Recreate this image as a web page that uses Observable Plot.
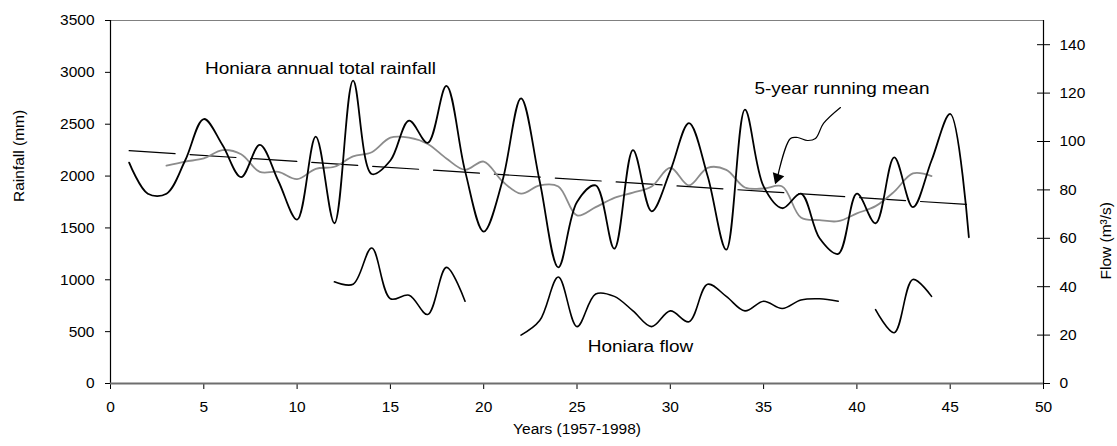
<!DOCTYPE html>
<html><head><meta charset="utf-8">
<script src="https://cdn.jsdelivr.net/npm/d3@7"></script>
<script src="https://cdn.jsdelivr.net/npm/@observablehq/plot@0.6"></script>
<style>
html,body{margin:0;padding:0;background:#fff;}
#chart{width:1117px;height:446px;overflow:hidden;}
</style></head><body><div id="chart"></div>
<script>
// Years since 1956 (1 = 1957 ... 46)
const rainYears = [1,2,3,4,5,6,7,8,9,10,11,12,13,14,15,16,17,18,19,20,21,22,23,24,25,26,27,28,29,30,31,32,33,34,35,36,37,38,39,40,41,42,43,44,45,46];
const rainfall = [2130,1830,1830,2150,2550,2300,1990,2300,1950,1580,2380,1545,2920,2020,2150,2535,2320,2870,2050,1465,1950,2750,1950,1120,1750,1910,1300,2250,1660,2050,2510,2000,1290,2640,1900,1690,1830,1400,1250,1830,1545,2180,1700,2150,2600,1410];

const meanYears = [3,4,5,6,7,8,9,10,11,12,13,14,15,16,17,18,19,20,21,22,23,24,25,26,27,28,29,30,31,32,33,34,35,36,37,38,39,40,41,42,43,44];
const runningMean = [2100,2140,2170,2250,2210,2040,2040,1970,2070,2090,2190,2230,2370,2370,2310,2170,2060,2140,1950,1830,1910,1900,1620,1700,1790,1840,1900,2080,1910,2080,2060,1890,1880,1900,1600,1575,1565,1640,1710,1850,2025,2000];

const trendYears = [1,46];
const trendRain = [2245,1725];

const flowYears = [12,13,14,15,16,17,18,19,20,21,22,23,24,25,26,27,28,29,30,31,32,33,34,35,36,37,38,39,40,41,42,43,44];
const flow = [42,41,56,35,36.5,28.5,48,34,null,null,20,26,44,23.5,37,36,30,23.5,30,25.5,41,36,30,34,31,34.5,35,34,null,30.5,21,43,36];

const rainTicks = [0,500,1000,1500,2000,2500,3000,3500];
const yearTicks = [0,5,10,15,20,25,30,35,40,45,50];
const flowTicks = [0,20,40,60,80,100,120,140];
const flowMax = 150;

// annotation arrow path (years, rainfall units)
const arrowX = [39.12,38.21,37.78,37.35,36.82,36.44,35.74];
const arrowY = [2661,2507,2362,2343,2372,2362,1986];

const labelX = [11.25, 39.2, 28.4];
const labelY = [3037, 2844, 357];
const labelText = ["Honiara annual total rainfall", "5-year running mean", "Honiara flow"];

const K = 3500 / flowMax;
const rainData = rainYears.map((y,i)=>({x:y, v:rainfall[i]}));
const meanData = meanYears.map((y,i)=>({x:y, v:runningMean[i]}));
const trendData = trendYears.map((y,i)=>({x:y, v:trendRain[i]}));
const flowData = flowYears.map((y,i)=>({x:y, v: flow[i]==null ? NaN : flow[i]*K}));
const arrowData = arrowX.map((x,i)=>({x, v:arrowY[i]}));
const tip = [arrowData[arrowData.length-1]];
const labels = labelText.map((t,i)=>({x:labelX[i], v:labelY[i], t}));

const font = "'Liberation Sans', Arial, Helvetica, sans-serif";
const FS = 15.5;   // axis text
const FA = 16.5;   // annotation text

const chart = Plot.plot({
  width:1117, height:446,
  marginLeft:110, marginRight:74, marginTop:20, marginBottom:63,
  style:{fontFamily:font, fontSize:FS+"px", color:"#000", background:"#fff"},
  x:{domain:[0,50]},
  y:{domain:[0,3500]},
  marks:[
    Plot.ruleY([3500], {stroke:"#808080", strokeWidth:1}),
    Plot.axisY(rainTicks, {anchor:"left", tickSize:5, tickPadding:11, label:null, stroke:"#000", fill:"#000", fontSize:FS, tickFormat:d=>String(d)}),
    Plot.axisY(flowTicks.map(v=>v*K), {anchor:"right", tickSize:6, tickPadding:10, label:null, stroke:"#000", fill:"#000", fontSize:FS, tickFormat:d=>String(Math.round(d/K))}),
    Plot.ruleY(flowTicks.map(v=>v*K), {x1:49.68, x2:50, stroke:"#000"}),
    Plot.axisX(yearTicks, {anchor:"bottom", tickSize:6, tickPadding:11, label:null, stroke:"#000", fill:"#000", fontSize:FS, tickFormat:d=>String(d)}),
    Plot.ruleX([0], {stroke:"#000", strokeWidth:1.2}),
    Plot.ruleX([50], {stroke:"#000", strokeWidth:1.2}),
    Plot.ruleY([0], {stroke:"#6e6e6e", strokeWidth:2.2}),
    Plot.line(trendData, {x:"x", y:"v", stroke:"#000", strokeWidth:1.2, strokeDasharray:"46,15"}),
    Plot.line(meanData, {x:"x", y:"v", stroke:"#8c8c8c", strokeWidth:1.8, curve:"catmull-rom"}),
    Plot.line(rainData, {x:"x", y:"v", stroke:"#000", strokeWidth:1.8, curve:"catmull-rom"}),
    Plot.line(flowData, {x:"x", y:"v", stroke:"#000", strokeWidth:1.6, curve:"catmull-rom"}),
    Plot.line(arrowData, {x:"x", y:"v", stroke:"#000", strokeWidth:1.2, curve:"catmull-rom"}),
    Plot.dot(tip, {x:"x", y:"v", symbol:"triangle", r:4.5, fill:"#000", stroke:"none", rotate:199}),
    Plot.text(labels, {x:"x", y:"v", text:"t", fill:"#000", fontSize:FA, className:"annot"}),
    Plot.text(["Rainfall (mm)"], {frameAnchor:"left", rotate:-90, dx:-91, fill:"#000", fontSize:FS}),
    Plot.text(["Flow (m³/s)"], {frameAnchor:"right", rotate:-90, dx:63, fill:"#000", fontSize:FS}),
    Plot.text(["Years (1957-1998)"], {frameAnchor:"bottom", dy:50, fill:"#000", fontSize:FS})
  ]
});
document.getElementById("chart").appendChild(chart);

// the annotation text boxes in the reference are drawn slightly wider
const STRETCH = 1.15;
chart.querySelectorAll(".annot text").forEach(t => {
  const w = t.getComputedTextLength();
  if (w > 0) {
    t.setAttribute("textLength", (w * STRETCH).toFixed(2));
    t.setAttribute("lengthAdjust", "spacingAndGlyphs");
  }
});
</script>
</body></html>
